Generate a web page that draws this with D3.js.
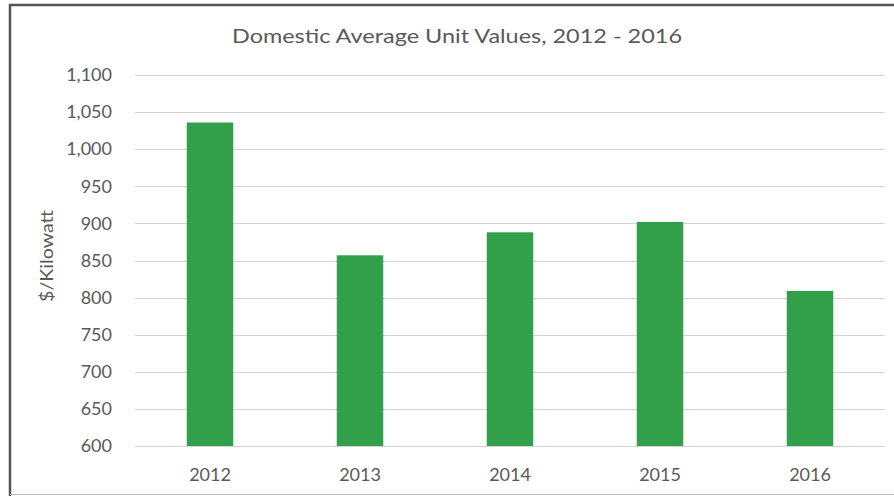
<!DOCTYPE html>
<html>
<head>
<meta charset="utf-8">
<script src="https://cdn.jsdelivr.net/npm/d3@7"></script>
<style>
  html, body { margin: 0; padding: 0; background: #fff; }
  svg { display: block; }
</style>
</head>
<body>
<svg id="chart" width="894" height="496"></svg>
<script>
// Average unit values per year, $/kilowatt
const years = ["2012", "2013", "2014", "2015", "2016"];
const values = [1036, 857, 888, 902, 809];
const yTicks = [600, 650, 700, 750, 800, 850, 900, 950, 1000, 1050, 1100];
const titleText = "Domestic Average Unit Values,  2012 - 2016";
const yLabel = "$/Kilowatt";

const W = 894, H = 496;
const margin = { left: 135, right: 9 };
const fontFamily = "Lato, 'Open Sans', sans-serif";
const textColor = "#595959";

const svg = d3.select("#chart");

// chart frame: dark left and top edges, faint bottom edge
svg.append("path")
  .attr("d", `M10,${H} V5 H${W}`)
  .attr("fill", "none")
  .attr("stroke", "#555")
  .attr("stroke-width", 2.5);
svg.append("line")
  .attr("x1", 10).attr("x2", W)
  .attr("y1", H - 1.5).attr("y2", H - 1.5)
  .attr("stroke", "#bbb")
  .attr("stroke-width", 1);

const x = d3.scaleBand()
  .domain(years)
  .range([margin.left, W - margin.right])
  .paddingInner(0.69)
  .paddingOuter(0.345);

const y = d3.scaleLinear()
  .domain([600, 1100])
  .range([446, 75]);

// horizontal gridlines
svg.append("g")
  .selectAll("line")
  .data(yTicks)
  .join("line")
  .attr("x1", margin.left)
  .attr("x2", W - margin.right)
  .attr("y1", d => Math.round(y(d)) + 0.5)
  .attr("y2", d => Math.round(y(d)) + 0.5)
  .attr("stroke", "#d4d4d4")
  .attr("stroke-width", 1);

// bars
svg.append("g")
  .selectAll("rect")
  .data(values)
  .join("rect")
  .attr("x", (d, i) => x(years[i]))
  .attr("y", d => y(d))
  .attr("width", x.bandwidth())
  .attr("height", d => y(600) - y(d))
  .attr("fill", "#32a04a");

// y axis tick labels
const yAxis = d3.axisLeft(y)
  .tickValues(yTicks)
  .tickSize(0)
  .tickPadding(0)
  .tickFormat(d3.format(","));
const gy = svg.append("g")
  .attr("transform", "translate(112,0)")
  .call(yAxis);
gy.select(".domain").remove();
gy.selectAll("text")
  .attr("font-family", fontFamily)
  .attr("font-size", 18)
  .attr("fill", textColor);

// x axis labels
const xAxis = d3.axisBottom(x).tickSize(0).tickPadding(0);
const gx = svg.append("g")
  .attr("transform", "translate(0,481)")
  .call(xAxis);
gx.select(".domain").remove();
gx.selectAll("text")
  .attr("y", 0)
  .attr("dy", 0)
  .attr("font-family", fontFamily)
  .attr("font-size", 18)
  .attr("fill", textColor);

// title
svg.append("text")
  .attr("x", 232)
  .attr("y", 43)
  .attr("textLength", 450)
  .attr("lengthAdjust", "spacingAndGlyphs")
  .attr("font-family", fontFamily)
  .attr("font-size", 20)
  .attr("fill", textColor)
  .text(titleText);

// y axis title
svg.append("text")
  .attr("transform", "translate(53,302) rotate(-90)")
  .attr("textLength", 92)
  .attr("lengthAdjust", "spacingAndGlyphs")
  .attr("font-family", fontFamily)
  .attr("font-size", 18)
  .attr("fill", textColor)
  .text(yLabel);
</script>
</body>
</html>
